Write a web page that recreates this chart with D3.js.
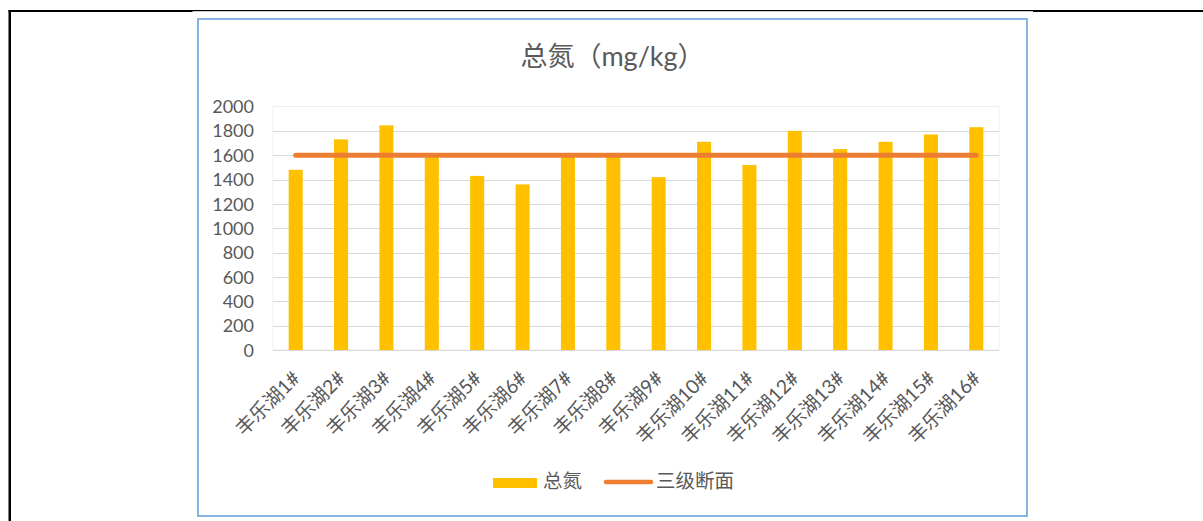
<!DOCTYPE html>
<html>
<head>
<meta charset="utf-8">
<script src="https://cdn.jsdelivr.net/npm/d3@7"></script>
<style>
  html, body { margin: 0; padding: 0; background: #fff; }
  svg { display: block; }
  text { font-family: Lato, "Noto Sans CJK SC", sans-serif; fill: #595959; }
</style>
</head>
<body>
<svg id="chart" width="1203" height="521"></svg>
<script>
// Sampling sites along 丰乐湖
const categories = [
  "丰乐湖1#", "丰乐湖2#", "丰乐湖3#", "丰乐湖4#", "丰乐湖5#", "丰乐湖6#",
  "丰乐湖7#", "丰乐湖8#", "丰乐湖9#", "丰乐湖10#", "丰乐湖11#", "丰乐湖12#",
  "丰乐湖13#", "丰乐湖14#", "丰乐湖15#", "丰乐湖16#"
];
// Total nitrogen per site (mg/kg)
const totalNitrogen = [1480, 1730, 1845, 1590, 1430, 1360, 1595, 1595,
                       1420, 1710, 1520, 1800, 1650, 1710, 1770, 1830];
// Grade III reference level at each site
const gradeThree = [1600, 1600, 1600, 1600, 1600, 1600, 1600, 1600,
                    1600, 1600, 1600, 1600, 1600, 1600, 1600, 1600];
const yTicks = [0, 200, 400, 600, 800, 1000, 1200, 1400, 1600, 1800, 2000];
const titleText = "总氮（mg/kg）";
const seriesNames = ["总氮", "三级断面"];

const svg = d3.select("#chart");

// Surrounding table border lines
svg.append("rect").attr("x", 8.5).attr("y", 10).attr("width", 2.5).attr("height", 511).attr("fill", "#000");
svg.append("rect").attr("x", 8.5).attr("y", 10).attr("width", 184).attr("height", 2).attr("fill", "#000");
svg.append("rect").attr("x", 192).attr("y", 10).attr("width", 841).attr("height", 1.2).attr("fill", "#000");
svg.append("rect").attr("x", 1033).attr("y", 10).attr("width", 170).attr("height", 2).attr("fill", "#000");

// Chart frame
svg.append("rect")
  .attr("x", 198).attr("y", 19).attr("width", 829).attr("height", 497)
  .attr("fill", "#fff").attr("stroke", "#86b5e4").attr("stroke-width", 2);

const plot = { left: 273, right: 999, top: 106.5, bottom: 350 };

const x = d3.scaleBand()
  .domain(categories)
  .range([plot.left, plot.right])
  .paddingInner(0.69)
  .paddingOuter(0.345);

const y = d3.scaleLinear()
  .domain([0, 2000])
  .range([plot.bottom, plot.top]);

// Plot area outline
svg.append("rect")
  .attr("x", plot.left).attr("y", plot.top)
  .attr("width", plot.right - plot.left).attr("height", plot.bottom - plot.top)
  .attr("fill", "none").attr("stroke", "#efefef").attr("stroke-width", 1);

// Horizontal gridlines
svg.append("g")
  .selectAll("line")
  .data(yTicks.filter(d => d > 0 && d < 2000))
  .join("line")
  .attr("x1", plot.left).attr("x2", plot.right)
  .attr("y1", d => Math.round(y(d)) + 0.5).attr("y2", d => Math.round(y(d)) + 0.5)
  .attr("stroke", "#d9d9d9").attr("stroke-width", 1);

// Y axis labels
const yAxis = d3.axisLeft(y).tickValues(yTicks).tickSize(0).tickPadding(0).tickFormat(d3.format("d"));
const yg = svg.append("g").attr("transform", `translate(${plot.left - 19},0)`).call(yAxis);
yg.select(".domain").remove();
yg.selectAll("text").style("font-size", "18px").attr("fill", "#595959").attr("dy", "0.34em");

// Bars
svg.append("g")
  .selectAll("rect")
  .data(totalNitrogen)
  .join("rect")
  .attr("x", (d, i) => x(categories[i]))
  .attr("width", x.bandwidth())
  .attr("y", d => y(d))
  .attr("height", d => y(0) - y(d))
  .attr("fill", "#ffc000");

// Category axis line
svg.append("line")
  .attr("x1", plot.left).attr("x2", plot.right)
  .attr("y1", plot.bottom + 0.5).attr("y2", plot.bottom + 0.5)
  .attr("stroke", "#d9d9d9").attr("stroke-width", 1);

// Reference line
const line = d3.line()
  .x((d, i) => x(categories[i]) + x.bandwidth() / 2)
  .y(d => y(d));
svg.append("path")
  .datum(gradeThree)
  .attr("d", line)
  .attr("fill", "none")
  .attr("stroke", "#ed7d31")
  .attr("stroke-width", 5)
  .attr("stroke-linecap", "round");

// Rotated category labels
const xAxis = d3.axisBottom(x).tickSize(0).tickPadding(0);
const xg = svg.append("g").attr("transform", `translate(0,${plot.bottom})`).call(xAxis);
xg.select(".domain").remove();
xg.selectAll("text")
  .style("font-size", "19.5px")
  .attr("fill", "#595959")
  .attr("text-anchor", "end")
  .attr("dy", null)
  .attr("y", null)
  .attr("dominant-baseline", "middle")
  .attr("transform", "translate(2,26) rotate(-45)");

// Title
svg.append("text")
  .attr("x", 612.5).attr("y", 66)
  .attr("text-anchor", "middle")
  .style("font-size", "27px")
  .text(titleText);

// Legend
const legend = svg.append("g");
legend.append("rect").attr("x", 493).attr("y", 478).attr("width", 44).attr("height", 10).attr("fill", "#ffc000");
legend.append("text").attr("x", 543).attr("y", 483).attr("dominant-baseline", "middle")
  .style("font-size", "19.5px").text(seriesNames[0]);
legend.append("line").attr("x1", 606).attr("x2", 651).attr("y1", 482).attr("y2", 482)
  .attr("stroke", "#ed7d31").attr("stroke-width", 4.5).attr("stroke-linecap", "round");
legend.append("text").attr("x", 656).attr("y", 483).attr("dominant-baseline", "middle")
  .style("font-size", "19.5px").text(seriesNames[1]);
</script>
</body>
</html>
